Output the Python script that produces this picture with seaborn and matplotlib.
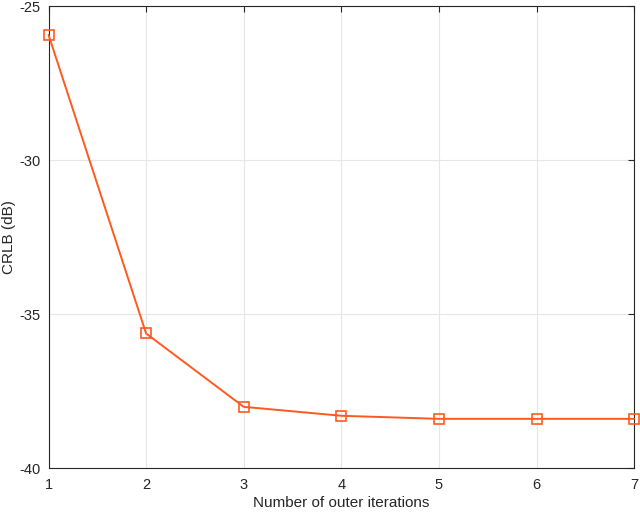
import numpy as np
import pandas as pd
import matplotlib
matplotlib.use('Agg')
import matplotlib.pyplot as plt
import seaborn as sns

# data
iterations = [1, 2, 3, 4, 5, 6, 7]
crlb_db = [-25.93, -35.62, -38.0, -38.29, -38.39, -38.39, -38.39]

sns.set_style('white')
plt.rcParams['font.family'] = ['Liberation Sans', 'DejaVu Sans']
plt.rcParams['axes.unicode_minus'] = False

df = pd.DataFrame({'iter': iterations, 'crlb': crlb_db})

fig = plt.figure(figsize=(6.4, 5.12), dpi=100)
ax = fig.add_axes([0.0758, 0.085, 0.915, 0.903])

sns.lineplot(data=df, x='iter', y='crlb', ax=ax, color='#FF5A1E', linewidth=1.4,
             marker='s', markersize=7, markerfacecolor='none',
             markeredgecolor='#FF5A1E', markeredgewidth=1.2, clip_on=False, zorder=5)

ax.set_xlim(1, 7)
ax.set_ylim(-40, -25)
ax.set_xticks(iterations)
ax.set_yticks([-40, -35, -30, -25])
ax.grid(True, color='#e6e6e6', linewidth=0.8)
ax.set_axisbelow(True)
for s in ax.spines.values():
    s.set_color('#262626')
    s.set_linewidth(0.8)
    s.set_visible(True)
ax.tick_params(direction='in', length=4, width=0.8, colors='#262626',
               labelsize=10.5, top=True, right=True, labelcolor='#262626')
ax.tick_params(axis='x', pad=7)
ax.tick_params(axis='y', pad=6)
ax.set_xlabel('Number of outer iterations', fontsize=11, color='#262626', labelpad=3)
ax.set_ylabel('CRLB (dB)', fontsize=11, color='#262626')
ax.yaxis.set_label_coords(-0.056, 0.5)

fig.savefig('out.png', dpi=100)
